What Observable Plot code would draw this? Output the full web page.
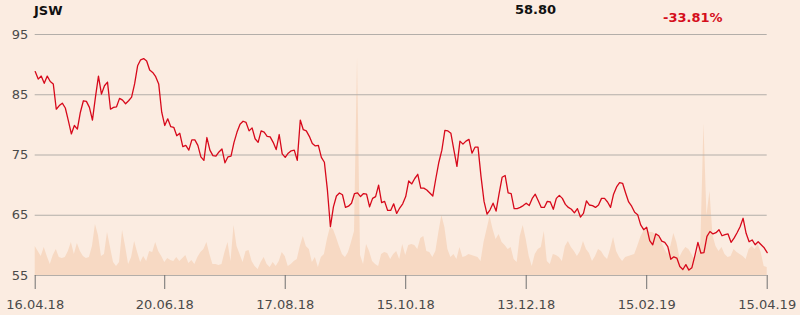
<!DOCTYPE html>
<html><head><meta charset="utf-8">
<script src="https://cdn.jsdelivr.net/npm/d3@7"></script>
<script src="https://cdn.jsdelivr.net/npm/@observablehq/plot@0.6"></script>
<style>
html,body{margin:0;padding:0;background:#fbece1;}
#wrap{width:800px;height:315px;position:relative;font-family:"DejaVu Sans",sans-serif;overflow:hidden}
#hdr{position:relative;height:24px}
#hdr span{position:absolute;font-weight:bold;font-size:13px;line-height:15px;white-space:nowrap}
</style></head><body>
<div id="wrap"><div id="hdr"></div><div id="chart"></div></div>
<script>
const title = "JSW";
const lastPrice = "58.80";
const change = "-33.81%";

// closing prices, one per trading day (16.04.18 – 15.04.19)
const prices = [
88.84, 87.6, 88.1, 86.9, 88.1, 87.2, 86.8, 82.6, 83.2, 83.6,
82.8, 80.7, 78.5, 79.9, 79.3, 82.1, 84.0, 83.9, 82.9, 80.8,
84.6, 88.1, 85.1, 86.5, 87.1, 82.6, 82.9, 83.0, 84.4, 84.1,
83.5, 84.0, 84.6, 86.8, 89.8, 90.8, 91.0, 90.6, 89.1, 88.7,
88.0, 86.8, 82.1, 79.9, 81.0, 79.7, 79.6, 78.2, 78.6, 76.4,
76.6, 75.8, 77.5, 77.5, 76.6, 74.7, 74.1, 77.9, 75.8, 74.9,
74.8, 75.5,
76.0, 73.7, 74.7, 74.8, 77.1, 78.8, 80.1, 80.6, 80.4, 79.0,
79.5, 77.7, 77.1, 79.0, 78.8, 78.1, 78.0, 77.1, 75.9, 78.4,
75.2, 74.6, 75.3, 75.7, 75.8, 74.1, 80.8, 79.2, 79.0, 78.1,
76.9, 76.5, 76.6, 74.6, 73.8, 69.2, 63.1, 66.4, 68.2, 68.7,
68.4, 66.3, 66.5, 67.0, 68.6, 68.7, 68.1, 68.6, 68.5, 66.4,
67.8, 68.1, 70.0, 67.1, 67.3, 65.8, 65.8, 66.9, 65.3, 66.2,
66.9,
68.1, 70.7, 70.2, 71.1, 71.8, 69.5, 69.5, 69.2, 68.7, 68.2,
71.1, 73.8, 75.8, 79.1, 79.0, 78.6, 75.8, 73.1, 77.3, 76.8,
77.3, 77.6, 75.3, 76.3, 76.3, 71.4, 67.3, 65.2, 65.9, 67.0,
65.7, 68.6, 71.3, 71.6, 68.7, 68.6, 66.1, 66.1, 66.3, 66.6,
67.0, 66.6, 67.8, 68.5, 67.4, 66.3, 66.3, 67.3, 67.2, 66.0,
67.8, 68.3, 67.8, 66.8, 66.3, 66.0, 65.4, 66.1, 64.7, 65.3,
67.4, 66.7,
66.6, 66.3, 66.7, 67.8, 67.8, 67.2, 66.3, 68.5, 69.7, 70.4,
70.3, 68.7, 67.2, 66.5, 65.5, 65.1, 63.4, 62.6, 63.0, 60.8,
60.1, 61.9, 61.6, 60.7, 60.5, 59.8, 57.7, 58.1, 57.9, 56.5,
56.0, 56.8, 55.9, 56.3, 58.3, 60.5, 58.7, 58.8, 61.5, 62.3,
61.9, 62.1, 62.6, 61.6, 61.8, 61.9, 60.5, 61.2, 62.1, 63.1,
64.5, 62.0, 60.6, 60.9, 60.1, 60.6, 60.1, 59.6, 58.8
];

// traded volume per day (relative units)
const volumes = [
29,24,19,28,19,11,20,26,18,17, 18,24,33,21,32,24,19,17,18,29,
51,40,19,21,43,28,13,9,13,45, 29,11,18,34,23,13,19,14,24,23,
33,24,19,13,17,15,14,18,14,17, 20,12,15,11,18,23,26,33,21,11,
11,10,
11,23,33,14,50,29,21,13,24,25, 14,9,6,13,18,11,8,13,9,14,
23,19,9,11,14,16,29,39,29,26, 13,18,8,18,21,36,48,46,38,29,
21,18,23,33,44,218,20,11,31,24, 14,11,9,21,23,22,16,21,24,16,
31,20,
30,31,30,26,37,39,24,23,18,24, 43,60,48,26,18,21,16,28,18,19,
21,20,19,18,14,33,46,59,46,36, 41,33,30,26,28,16,13,39,50,36,
19,9,21,26,28,44,14,11,21,20, 18,14,29,34,28,24,19,24,34,26,
22,
14,19,26,24,19,16,26,38,24,18, 14,18,19,20,21,29,38,44,46,43,
43,41,39,33,26,21,29,42,33,18, 24,28,26,21,16,23,33,152,60,84,
40,29,24,28,21,18,19,26,23,21, 19,16,26,29,26,31,23,9,8
];

const tickIdx = [0, 43, 83, 123, 163, 203, 243];
const tickLabels = ["16.04.18", "20.06.18", "17.08.18", "15.10.18", "13.12.18", "15.02.19", "15.04.19"];
const yTicks = [55, 65, 75, 85, 95];

const priceData = prices.map((p, i) => ({i, p}));
const volData = volumes.map((v, i) => ({i, v}));
const volFactor = 0.1658; // volume units -> price-axis units (volume band sits on the baseline)

const hdr = document.getElementById("hdr");
function addSpan(txt, css, color) {
  const s = document.createElement("span");
  s.textContent = txt; s.style.cssText = css; s.style.color = color;
  hdr.appendChild(s);
}
addSpan(title, "left:34px;top:3px;", "#111");
addSpan(lastPrice, "left:515px;top:2px;", "#111");
addSpan(change, "left:663px;top:9.5px;", "#d50f1c");

const chart = Plot.plot({
  width: 800,
  height: 291,
  marginTop: 10,
  marginBottom: 40,
  marginLeft: 34.7,
  marginRight: 33.3,
  style: {background: "transparent", fontFamily: "DejaVu Sans, sans-serif", fontSize: "13px", color: "#4a4a4a"},
  x: {type: "linear", domain: [0, prices.length - 1]},
  y: {domain: [55, 95]},
  marks: [
    Plot.areaY(volData, {x: "i", y1: 55, y2: d => 55 + d.v * volFactor, fill: "#f7d9c3", curve: "linear"}),
    Plot.gridY(yTicks, {stroke: "#b3aea9", strokeOpacity: 1, strokeWidth: 1}),
    Plot.axisY(yTicks, {label: null, tickSize: 0, tickPadding: 7, fontSize: 13, fill: "#4a4a4a"}),
    Plot.axisX(tickIdx, {label: null, tickSize: 14, tickPadding: 10, fontSize: 13, stroke: "#707070", fill: "#4a4a4a",
      tickFormat: d => tickLabels[tickIdx.indexOf(d)]}),
    Plot.lineY(priceData, {x: "i", y: "p", stroke: "#d7091b", strokeWidth: 1.3, curve: "linear"})
  ]
});
document.getElementById("chart").appendChild(chart);
</script>
</body></html>
